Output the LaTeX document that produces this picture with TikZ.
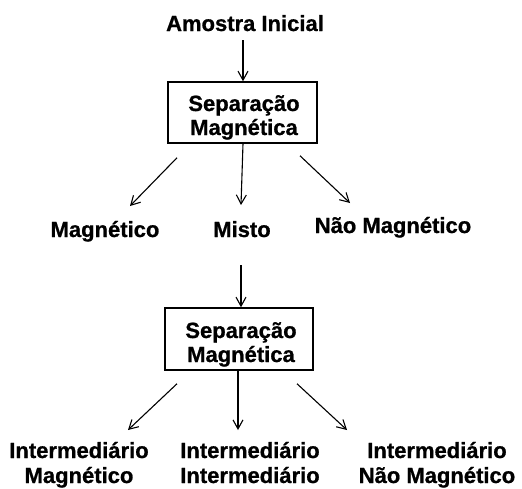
\documentclass[tikz,border=0pt]{standalone}
\usepackage{fontspec}
\setmainfont{Liberation Sans}[BoldFeatures={FakeBold=0.8}]
\usetikzlibrary{arrows.meta,calc}
\begin{document}
\begin{tikzpicture}[x=1pt,y=-1pt,
  lbl/.style={font=\bfseries\fontsize{22}{25}\selectfont, inner sep=0pt, align=center, anchor=base},
  boxtext/.style={font=\bfseries\fontsize{22}{24}\selectfont, inner sep=0pt, align=center, anchor=base},
  box/.style={draw, line width=1.5pt, inner sep=0pt},
  arr/.style={line width=1.1pt, -{Straight Barb[length=9pt,width=10pt]}}]
\useasboundingbox[fill=white] (0,0) rectangle (522,488);
% boxes (base anchor of a two-line node = baseline of its last line)
\node[box, minimum width=149pt, minimum height=61pt] (sep1) at (242.5,112.5) {};
\node[boxtext] (sep1t) at (244,135) {Separação\\Magnética};
\node[box, minimum width=148pt, minimum height=62pt] (sep2) at (239,339) {};
\node[boxtext] (sep2t) at (241,362) {Separação\\Magnética};
% labels
\node[lbl] (amostra) at (245,31) {Amostra Inicial};
\node[lbl] (mag) at (105,237) {Magnético};
\node[lbl] (misto) at (242,237) {Misto};
\node[lbl] (naomag) at (393,233) {Não Magnético};
\node[lbl] (im) at (79,483) {Intermediário\\Magnético};
\node[lbl] (ii) at (250,483) {Intermediário\\Intermediário};
\node[lbl] (inm) at (437,483) {Intermediário\\Não Magnético};
% connectors
\draw[arr] ($(amostra.base)+(-2,9)$) -- ($(sep1.north)+(0.5,0)$);
\draw[arr] ($(sep1.south)+(0.5,0)$) -- ($(misto.base)+(-1,-32)$);
\draw[arr] ($(sep1.south)+(-65.5,14)$) -- ($(mag.base)+(25,-31)$);
\draw[arr] ($(sep1.south)+(57.5,12)$) -- ($(naomag.base)+(-43,-30)$);
\draw[arr] ($(misto.base)+(-1,28)$) -- ($(sep2.north)+(2,0)$);
\draw[arr] ($(sep2.south)+(-1,0)$) -- ($(ii.base)+(-12,-53)$);
\draw[arr] ($(sep2.south)+(-62,13)$) -- ($(im.base)+(49,-53)$);
\draw[arr] ($(sep2.south)+(58,13)$) -- ($(inm.base)+(-90,-53)$);
\end{tikzpicture}
\end{document}
